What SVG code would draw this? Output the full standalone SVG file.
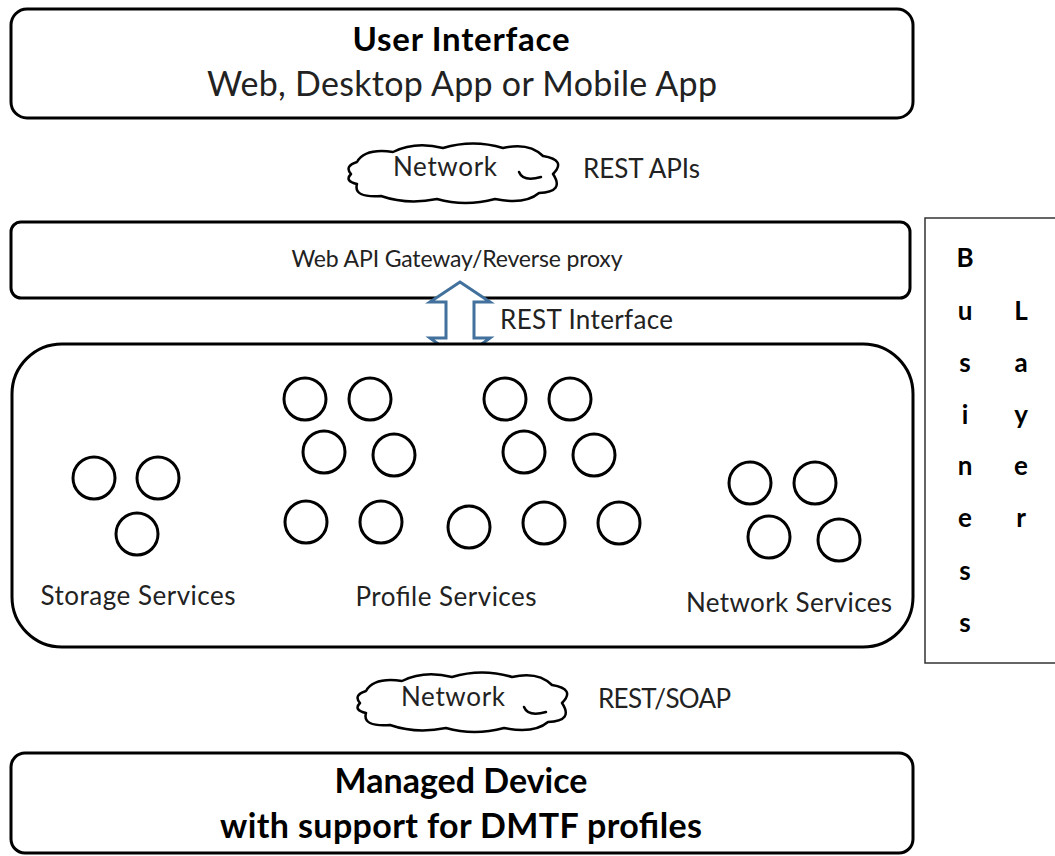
<svg xmlns="http://www.w3.org/2000/svg" xmlns:xlink="http://www.w3.org/1999/xlink" width="1055" height="856" viewBox="0 0 1055 856">
<style>
.box{fill:#fff;stroke:#000;stroke-width:3}
.svc{fill:none;stroke:#000;stroke-width:3}
.t{font-family:Lato,"Open Sans",sans-serif;fill:#222}
.b{font-weight:bold;fill:#000}
.cloud{fill:#fff;stroke:#000;stroke-width:2.5;stroke-linejoin:round}
.curl{fill:none;stroke:#000;stroke-width:2.5;stroke-linecap:round}
</style>
<defs>
<path id="cloudp" d="M 14 20 Q 22 6 50 10 Q 72 -1 100 6 Q 130 -3 160 6 Q 186 0 200 14 Q 224 18 210 32 Q 222 50 196 51 Q 182 63 152 57 Q 122 65 94 57 Q 64 63 38 54 Q 10 56 14 42 Q 1 39 8 32 Q 1 24 14 20 Z"/>
<circle id="c" r="21" class="svc"/>
</defs>
<rect width="1055" height="856" fill="#fff"/>

<g id="ui">
<rect class="box" x="11" y="9" width="902" height="109" rx="16"/>
<text class="t b" x="461" y="51" font-size="33" text-anchor="middle" textLength="217">User Interface</text>
<text class="t" x="462" y="96" font-size="34" text-anchor="middle" fill="#111" textLength="510">Web, Desktop App or Mobile App</text>
</g>

<g id="cloud1">
<g transform="translate(343,142)">
<use xlink:href="#cloudp" class="cloud"/>
<path class="curl" d="M 176 30 Q 180 40 198 35"/>
</g>
<text class="t" x="445" y="176" font-size="26" text-anchor="middle" textLength="104">Network</text>
<text class="t" x="583" y="178" font-size="26" textLength="117">REST APIs</text>
</g>

<g id="gateway">
<rect class="box" x="11" y="222" width="899" height="76" rx="10"/>
<text class="t" x="457" y="267" font-size="23" text-anchor="middle" textLength="331">Web API Gateway/Reverse proxy</text>
</g>

<g id="connectors">
<path d="M 460 282 L 490 302 L 474 302 L 474 338 L 490 338 L 460 360 L 430 338 L 446 338 L 446 302 L 430 302 Z" fill="#fff" stroke="#41719C" stroke-width="3" stroke-linejoin="miter"/>
<text class="t" x="500" y="329" font-size="26" textLength="173">REST Interface</text>
</g>

<g id="services">
<rect class="box" x="12" y="344" width="901" height="303" rx="50"/>
<g id="storage">
<use xlink:href="#c" x="94" y="478"/>
<use xlink:href="#c" x="158" y="478"/>
<use xlink:href="#c" x="137" y="534"/>
<text class="t" x="138" y="605" font-size="26" text-anchor="middle" textLength="195">Storage Services</text>
</g>
<g id="profile">
<use xlink:href="#c" x="305" y="399"/>
<use xlink:href="#c" x="370" y="399"/>
<use xlink:href="#c" x="324" y="452"/>
<use xlink:href="#c" x="394" y="455"/>
<use xlink:href="#c" x="306" y="522"/>
<use xlink:href="#c" x="381" y="522"/>
<use xlink:href="#c" x="469" y="527"/>
<use xlink:href="#c" x="505" y="399"/>
<use xlink:href="#c" x="570" y="399"/>
<use xlink:href="#c" x="524" y="452"/>
<use xlink:href="#c" x="594" y="455"/>
<use xlink:href="#c" x="544" y="523"/>
<use xlink:href="#c" x="619" y="523"/>
<text class="t" x="446" y="606" font-size="26" text-anchor="middle" textLength="181">Profile Services</text>
</g>
<g id="network">
<use xlink:href="#c" x="750" y="483"/>
<use xlink:href="#c" x="815" y="483"/>
<use xlink:href="#c" x="769" y="537"/>
<use xlink:href="#c" x="839" y="540"/>
<text class="t" x="789" y="612" font-size="26" text-anchor="middle" textLength="206">Network Services</text>
</g>
</g>

<g id="business">
<rect x="925" y="218" width="140" height="445" fill="#fff" stroke="#333" stroke-width="1.5"/>
<g class="t b" font-size="26" text-anchor="middle">
<text x="965" y="267">B</text>
<text x="965" y="320">u</text>
<text x="965" y="372">s</text>
<text x="965" y="424">i</text>
<text x="965" y="475">n</text>
<text x="965" y="527">e</text>
<text x="965" y="580">s</text>
<text x="965" y="632">s</text>
<text x="1021" y="320">L</text>
<text x="1021" y="372">a</text>
<text x="1021" y="424">y</text>
<text x="1021" y="475">e</text>
<text x="1021" y="527">r</text>
</g>
</g>

<g id="cloud2">
<g transform="translate(352,671)">
<use xlink:href="#cloudp" class="cloud"/>
<path class="curl" d="M 172 36 Q 176 46 194 41"/>
</g>
<text class="t" x="453" y="706" font-size="26" text-anchor="middle" textLength="104">Network</text>
<text class="t" x="598" y="708" font-size="26" textLength="133">REST/SOAP</text>
</g>

<g id="device">
<rect class="box" x="11" y="753" width="902" height="100" rx="14"/>
<text class="t b" x="461" y="793" font-size="34" text-anchor="middle" textLength="253">Managed Device</text>
<text class="t b" x="461" y="838" font-size="34" text-anchor="middle" textLength="482">with support for DMTF profiles</text>
</g>
</svg>
